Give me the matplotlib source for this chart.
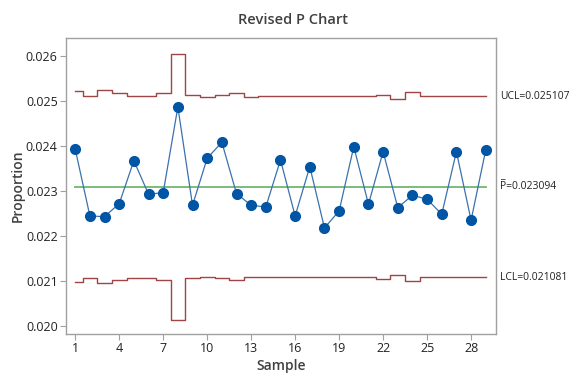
import matplotlib.pyplot as plt
import matplotlib.transforms as mtransforms

plt.rcParams['font.family'] = ['Open Sans', 'DejaVu Sans']

# sample numbers and plotted proportions
samples = list(range(1, 30))
proportion = [0.023927, 0.022444, 0.022429, 0.022718, 0.023673, 0.022927, 0.022962,
              0.024867, 0.022682, 0.023727, 0.024082, 0.022940, 0.022682, 0.022644,
              0.023689, 0.022444, 0.023540, 0.022178, 0.022556, 0.023984, 0.022704,
              0.023873, 0.022629, 0.022904, 0.022816, 0.022482, 0.023873, 0.022349,
              0.023911]

# control limits per sample (vary with subgroup size)
ucl = [0.025213, 0.025116, 0.025243, 0.025176, 0.025116, 0.025116, 0.025176,
       0.026047, 0.025131, 0.025094, 0.025131, 0.025176, 0.025094, 0.025107,
       0.025107, 0.025107, 0.025107, 0.025107, 0.025107, 0.025107, 0.025107,
       0.025139, 0.025050, 0.025198, 0.025107, 0.025107, 0.025107, 0.025107,
       0.025107]
lcl = [0.020975, 0.021072, 0.020945, 0.021012, 0.021072, 0.021072, 0.021012,
       0.020141, 0.021057, 0.021094, 0.021057, 0.021012, 0.021094, 0.021081,
       0.021081, 0.021081, 0.021081, 0.021081, 0.021081, 0.021081, 0.021081,
       0.021049, 0.021138, 0.020990, 0.021081, 0.021081, 0.021081, 0.021081,
       0.021081]
p_bar = 0.023094

x_ticks = [1, 4, 7, 10, 13, 16, 19, 22, 25, 28]
y_ticks = [0.020, 0.021, 0.022, 0.023, 0.024, 0.025, 0.026]

fig = plt.figure(figsize=(5.75, 3.74), dpi=100)
ax = fig.add_axes([66 / 575, 1 - 334 / 374, (496 - 66) / 575, (334 - 38) / 374])

limit_color = '#a04545'
ax.step(samples, ucl, where='mid', color=limit_color, lw=1.0)
ax.step(samples, lcl, where='mid', color=limit_color, lw=1.0)
ax.plot([samples[0], samples[-1]], [p_bar, p_bar], color='#7cbc7c', lw=1.4)
ax.plot(samples, proportion, color='#3a72ad', lw=0.9, marker='o',
        markersize=7, markerfacecolor='#0055a5', markeredgecolor='#0055a5')

ax.set_xlim(0.37, 29.7)
ax.set_ylim(0.01982, 0.0264)
ax.set_xticks(x_ticks)
ax.set_yticks(y_ticks)
ax.set_yticklabels(['%.3f' % v for v in y_ticks])

for s in ax.spines.values():
    s.set_color('#a0a0a0')
    s.set_linewidth(1.0)
ax.tick_params(colors='#a0a0a0', labelcolor='#222222', labelsize=9, length=4, width=0.8, pad=2)

fig.text(293 / 575, 1 - 20 / 374, 'Revised P Chart', fontsize=10.5, fontweight='semibold',
         color='#404040', ha='center', va='center')
fig.text(281 / 575, 1 - 366 / 374, 'Sample', fontsize=10, fontweight='semibold',
         color='#404040', ha='center', va='center')
fig.text(18 / 575, 1 - 186 / 374, 'Proportion', fontsize=10, fontweight='semibold',
         color='#404040', ha='center', va='center', rotation=90)

trans = mtransforms.blended_transform_factory(ax.transAxes, ax.transData)
lx = 1.01
ax.text(lx, ucl[-1], 'UCL=%.6f' % ucl[-1], transform=trans, va='center', ha='left',
        fontsize=7.5, color='#222222')
ax.text(lx, p_bar, 'P=%.6f' % p_bar, transform=trans, va='center', ha='left',
        fontsize=7.5, color='#222222')
ax.text(lx, p_bar + 0.00024, '_', transform=trans, va='center', ha='left',
        fontsize=7.5, color='#222222')
ax.text(lx, lcl[-1], 'LCL=%.6f' % lcl[-1], transform=trans, va='center', ha='left',
        fontsize=7.5, color='#222222')

fig.savefig('out.png', dpi=100)
